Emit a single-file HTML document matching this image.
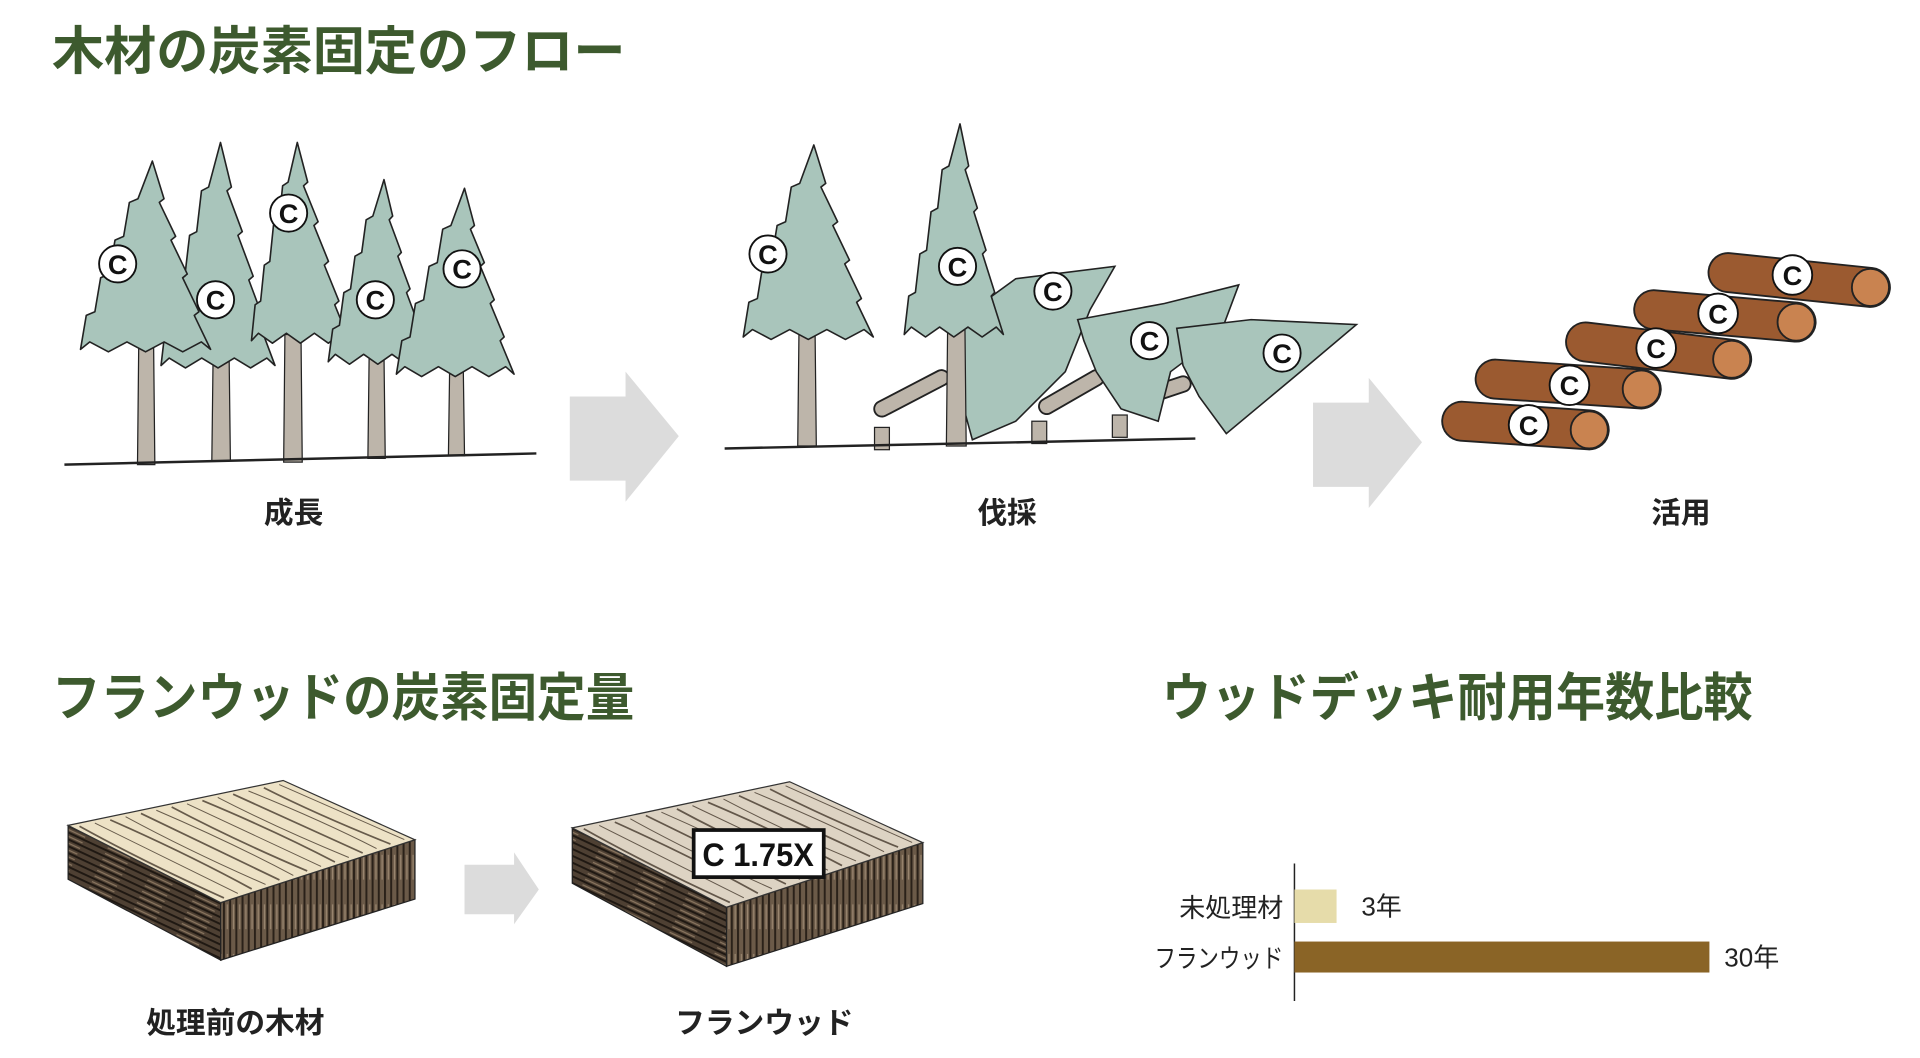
<!DOCTYPE html>
<html><head><meta charset="utf-8">
<style>
html,body{margin:0;padding:0;background:#fff;width:1920px;height:1058px;overflow:hidden}
svg{display:block}
text{font-family:"Liberation Sans","Noto Sans CJK JP",sans-serif}
</style></head>
<body>
<svg width="1920" height="1058" viewBox="0 0 1550 854" preserveAspectRatio="none" xmlns="http://www.w3.org/2000/svg">
<defs>
<pattern id="side" width="5" height="40" patternUnits="userSpaceOnUse">
<rect width="5" height="40" fill="#6b5a48"/>
<rect x="0" width="1.6" height="40" fill="#2a2119"/>
<rect x="3" y="10" width="1" height="20" fill="#9a8670"/>
</pattern>
<pattern id="sideL" width="40" height="5" patternUnits="userSpaceOnUse" patternTransform="rotate(25)">
<rect width="40" height="5" fill="#4e4033"/>
<rect y="0" width="40" height="1.6" fill="#1f1812"/>
<rect x="8" y="3" width="20" height="1" fill="#8a7660"/>
</pattern>
</defs>

<g font-weight="bold">
<text x="42" y="56" font-size="42" fill="#3d5a2e" textLength="463" lengthAdjust="spacingAndGlyphs">木材の炭素固定のフロー</text>
<text x="42" y="578" font-size="42" fill="#3d5a2e" textLength="470" lengthAdjust="spacingAndGlyphs">フランウッドの炭素固定量</text>
<text x="938" y="578" font-size="42" fill="#3d5a2e" textLength="477" lengthAdjust="spacingAndGlyphs">ウッドデッキ耐用年数比較</text>
</g>

<g id="g1"></g>
<line x1="52" y1="375" x2="433" y2="366" stroke="#222" stroke-width="2"/>

<g id="g2"></g>
<line x1="585" y1="362" x2="965" y2="354" stroke="#222" stroke-width="2"/>

<g id="g3"></g>

<polygon points="460,320 505,320 505,300 548,352 505,405 505,388 460,388" fill="#dcdcdc"/>
<polygon points="1060,325 1105,325 1105,305 1148,357 1105,410 1105,393 1060,393" fill="#dcdcdc"/>
<polygon points="375,698 415,698 415,688 435,718 415,746 415,738 375,738" fill="#dcdcdc"/>

<g font-size="24" fill="#222" text-anchor="middle" font-weight="bold">
<text x="237" y="422">成長</text>
<text x="813" y="422">伐採</text>
<text x="1357" y="422">活用</text>
<text x="190" y="834">処理前の木材</text>
<text x="617" y="834">フランウッド</text>
</g>

<g id="blocks"></g>
<rect x="560" y="670" width="105" height="38" fill="#fff" stroke="#111" stroke-width="3"/>
<text x="612" y="699" font-size="26" text-anchor="middle" font-family="Liberation Mono, monospace" font-weight="bold" fill="#111" textLength="90" lengthAdjust="spacingAndGlyphs">C 1.75X</text>

<line x1="1045" y1="697" x2="1045" y2="808" stroke="#222" stroke-width="1.2"/>
<rect x="1045" y="718" width="34" height="27" fill="#e6dcaa"/>
<rect x="1045" y="760" width="335" height="25" fill="#8a6426"/>
<g font-size="21" fill="#222">
<text x="1036" y="740" text-anchor="end">未処理材</text>
<text x="1036" y="781" text-anchor="end" textLength="104" lengthAdjust="spacingAndGlyphs">フランウッド</text>
<text x="1099" y="739">3年</text>
<text x="1392" y="780">30年</text>
</g>
</svg>
<script>
const NS="http://www.w3.org/2000/svg";
function el(p,tag,a){const e=document.createElementNS(NS,tag);for(const k in a)e.setAttribute(k,a[k]);p.appendChild(e);return e;}
function tree(g,tx,ty,bl,br,by,tl,tr,tb){
  el(g,"polygon",{points:`${tl},${by-5} ${tr},${by-5} ${tr+1},${tb} ${tl-1},${tb}`,fill:"#bdb5aa",stroke:"#222","stroke-width":1});
  let pts=[[tx,ty]];const n=5;
  for(let i=1;i<=n;i++){const f=i/n;const y=ty+(by-ty)*f;const x=tx+(br-tx)*f;pts.push([x,y]);if(i<n)pts.push([x-(br-tx)*0.08,y+3]);}
  for(let k=0;k<7;k++){const x=br-(br-bl)*(k+0.5)/7;pts.push([x,by+(k%2?2:-6)]);}
  for(let i=n;i>=1;i--){const f=i/n;const y=ty+(by-ty)*f;const x=tx+(bl-tx)*f;pts.push([x,y]);if(i>1)pts.push([x+(tx-bl)*0.08,y-(by-ty)/n+3]);}
  el(g,"polygon",{points:pts.map(p=>p.join(",")).join(" "),fill:"#a9c5bb",stroke:"#222","stroke-width":1.3,"stroke-linejoin":"round"});
}
function C(g,x,y,r){r=r||15;el(g,"circle",{cx:x,cy:y,r:r,fill:"#fff",stroke:"#111","stroke-width":1.5});
  const t=el(g,"text",{x:x,y:y+8,"font-size":22,"font-weight":"bold","text-anchor":"middle",fill:"#111"});t.textContent="C";}
const g1=document.getElementById("g1");
tree(g1,178,115,130,222,295,172,185,372);
tree(g1,123,130,65,170,282,112,124,375);
tree(g1,240,115,203,282,275,230,243,373);
tree(g1,310,145,265,345,292,298,310,370);
tree(g1,375,152,320,415,302,363,374,368);
C(g1,95,213);C(g1,174,242);C(g1,233,172);C(g1,303,242);C(g1,373,217);
const g2=document.getElementById("g2");
tree(g2,657,117,600,705,272,645,658,360);
[[712,330,760,305],[845,328,885,305],[910,325,955,310]].forEach(a=>el(g2,"line",{x1:a[0],y1:a[1],x2:a[2],y2:a[3],stroke:"#222","stroke-width":14,"stroke-linecap":"round"}));
[[712,330,760,305],[845,328,885,305],[910,325,955,310]].forEach(a=>el(g2,"line",{x1:a[0],y1:a[1],x2:a[2],y2:a[3],stroke:"#bdb5aa","stroke-width":11,"stroke-linecap":"round"}));
[[706,345],[833,340],[898,335]].forEach(a=>el(g2,"rect",{x:a[0],y:a[1],width:12,height:18,fill:"#bdb5aa",stroke:"#222","stroke-width":1}));
el(g2,"polygon",{points:"820,225 900,215 880,250 860,300 820,340 785,355 770,300 765,265",fill:"#a9c5bb",stroke:"#222","stroke-width":1.3});
el(g2,"polygon",{points:"870,258 940,245 1000,230 985,270 945,300 935,340 905,330 885,300 875,275",fill:"#a9c5bb",stroke:"#222","stroke-width":1.3});
el(g2,"polygon",{points:"950,265 1010,258 1095,262 1050,300 990,350 968,320 955,295",fill:"#a9c5bb",stroke:"#222","stroke-width":1.3});
tree(g2,775,100,730,810,270,765,779,360);
C(g2,620,205);C(g2,773,215);C(g2,850,235);C(g2,928,275);C(g2,1035,285);
const g3=document.getElementById("g3");
[[1395,220,1510,232,1447,222],[1335,250,1450,260,1387,253],[1280,276,1398,290,1337,281],[1207,306,1325,314,1267,311],[1180,340,1283,347,1234,343]].forEach(a=>{
  el(g3,"line",{x1:a[0],y1:a[1],x2:a[2],y2:a[3],stroke:"#222","stroke-width":33,"stroke-linecap":"round"});
  el(g3,"line",{x1:a[0],y1:a[1],x2:a[2],y2:a[3],stroke:"#9b5a30","stroke-width":30,"stroke-linecap":"round"});
  el(g3,"circle",{cx:a[2],cy:a[3],r:15,fill:"#c98350",stroke:"#222","stroke-width":1.5});
  C(g3,a[4],a[5],16);
});
function block(g,x,y,w,h,top){
  const P=(fx,fy)=>(x+w*fx)+","+(y+h*fy);
  el(g,"polygon",{points:[P(0,0.25),P(0.44,0.68),P(0.44,1),P(0,0.55)].join(" "),fill:"url(#sideL)",stroke:"#222"});
  el(g,"polygon",{points:[P(0.44,0.68),P(1,0.33),P(1,0.66),P(0.44,1)].join(" "),fill:"url(#side)",stroke:"#222"});
  el(g,"polygon",{points:[P(0,0.25),P(0.62,0),P(1,0.33),P(0.44,0.68)].join(" "),fill:top,stroke:"#333"});
  for(let i=0;i<14;i++){const f=(i+0.5)/14;
    const x1=x+w*(0+0.62*f),y1=y+h*(0.25-0.25*f),x2=x+w*(0.44+0.56*f),y2=y+h*(0.68-0.35*f);
    el(g,"path",{d:`M${x1+3},${y1+2} Q${(x1+x2)/2+(i%3-1)*6},${(y1+y2)/2} ${x2-3},${y2-2}`,fill:"none",stroke:"#3a2e22","stroke-width":i%2?0.8:1.4,opacity:0.75});}
}
const b=document.getElementById("blocks");
block(b,55,630,280,145,"#ede2c6");
block(b,462,631,283,149,"#ddd3c3");
</script>
</body></html>
